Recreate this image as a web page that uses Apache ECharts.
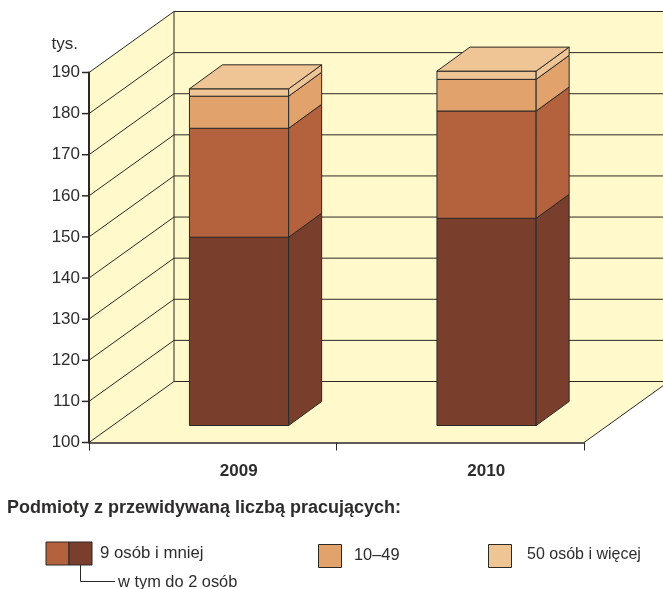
<!DOCTYPE html>
<html>
<head>
<meta charset="utf-8">
<style>html,body{margin:0;padding:0;background:#fff}#chart{width:663px;height:589px}</style>
<script src="https://cdn.jsdelivr.net/npm/echarts@6/dist/echarts.min.js"></script>
</head>
<body>
<div id="chart"></div>
<script>
var years = ['2009', '2010']
var yTicks = [100, 110, 120, 130, 140, 150, 160, 170, 180, 190]
var upTo2 = [145.8, 150.4]
var upTo9Rest = [26.5, 26.1]
var from10to49 = [7.8, 7.7]
var from50 = [1.8, 2.0]

var LINE = '#2b2926'
var TEXT = '#2f2d2c'
var WALL = '#fff9cb'
var DARK = '#7a3e2c'
var MID = '#b4613d'
var ORANGE = '#e2a26b'
var LIGHT = '#f0c596'
var FONT = '"Liberation Sans", Arial, sans-serif'

// depth of the box the chart stands in, and of the bars inside it
var wallDx = 85
var wallDy = -61
var barShiftX = 26.3
var barShiftY = -17
var barDx = 33
var barDy = -24
var barHalf = 49.6

function renderWalls (params, api) {
  var cs = params.coordSys
  var l = cs.x
  var r = cs.x + cs.width
  var t = cs.y
  var b = cs.y + cs.height
  var s = {fill: WALL, stroke: null}
  return {
    type: 'group',
    children: [
      {type: 'polygon', shape: {points: [[l, t], [l + wallDx, t + wallDy], [l + wallDx, b + wallDy], [l, b]]}, style: s},
      {type: 'rect', shape: {x: l + wallDx, y: t + wallDy, width: cs.width, height: cs.height}, style: s},
      {type: 'polygon', shape: {points: [[l, b], [r, b], [r + wallDx, b + wallDy], [l + wallDx, b + wallDy]]}, style: s},
      {type: 'line', shape: {x1: l + wallDx, y1: t + wallDy, x2: l + wallDx, y2: b + wallDy}, style: {stroke: LINE, lineWidth: 1}},
      {type: 'line', shape: {x1: r, y1: b, x2: r + wallDx, y2: b + wallDy}, style: {stroke: LINE, lineWidth: 1}}
    ]
  }
}

// one tick outside the axis, then the line over the left wall and the back wall
function renderGridLine (params, api) {
  var cs = params.coordSys
  var y = api.coord([0, api.value(0)])[1]
  var l = cs.x
  var style = {stroke: LINE, lineWidth: 1}
  return {
    type: 'group',
    children: [
      {type: 'rect', shape: {x: l - 7, y: y - 0.75, width: 7, height: 1.5}, style: {fill: LINE, stroke: null}},
      {type: 'line', shape: {x1: l, y1: y, x2: l + wallDx, y2: y + wallDy}, style: style},
      {type: 'line', shape: {x1: l + wallDx, y1: y + wallDy, x2: l + cs.width + wallDx, y2: y + wallDy}, style: style}
    ]
  }
}

function renderSegment (fill, withTop) {
  return function (params, api) {
    // the axis starts at 100, so the lowest block is cut there
    var p0 = api.coord([api.value(0), Math.max(api.value(1), yTicks[0])])
    var p1 = api.coord([api.value(0), api.value(2)])
    var x0 = p0[0] + barShiftX - barHalf
    var x1 = p0[0] + barShiftX + barHalf
    var y0 = p0[1] + barShiftY
    var y1 = p1[1] + barShiftY
    var style = {fill: fill, stroke: LINE, lineWidth: 1, lineJoin: 'round'}
    var kids = [
      {type: 'polygon', shape: {points: [[x0, y0], [x1, y0], [x1, y1], [x0, y1]]}, style: style},
      {type: 'polygon', shape: {points: [[x1, y0], [x1 + barDx, y0 + barDy], [x1 + barDx, y1 + barDy], [x1, y1]]}, style: style}
    ]
    if (withTop) {
      kids.push({type: 'polygon', shape: {points: [[x0, y1], [x1, y1], [x1 + barDx, y1 + barDy], [x0 + barDx, y1 + barDy]]}, style: style})
    }
    return {type: 'group', children: kids}
  }
}

// stack the four groups, each item is [year index, from, to]
var bottoms = [0, 0]
function stackRow (values) {
  return values.map(function (v, i) {
    var from = bottoms[i]
    bottoms[i] = from + v
    return [i, from, from + v]
  })
}

function segmentSeries (name, values, fill, withTop) {
  return {
    name: name,
    type: 'custom',
    silent: true,
    z: 2,
    renderItem: renderSegment(fill, withTop),
    encode: {x: 0, y: [1, 2]},
    data: stackRow(values)
  }
}

function labelText (text, x, y, size, bold) {
  return {
    type: 'text',
    x: x,
    y: y,
    style: {
      text: text,
      fill: TEXT,
      font: (bold ? 'bold ' : '') + size + 'px ' + FONT,
      textAlign: 'left',
      textVerticalAlign: 'middle'
    }
  }
}

function swatch (x, y, w, h, fill) {
  return {type: 'rect', shape: {x: x, y: y, width: w, height: h}, style: {fill: fill, stroke: LINE, lineWidth: 1}}
}

var chart = echarts.init(document.getElementById('chart'), null, {renderer: 'canvas'})
chart.setOption({
  animation: false,
  backgroundColor: '#fff',
  grid: {left: 89, top: 72.5, width: 495, height: 370},
  xAxis: {
    type: 'category',
    data: years,
    z: 5,
    axisLine: {show: true, lineStyle: {color: LINE, width: 1.5}},
    axisTick: {show: true, alignWithLabel: false, interval: 0, length: 8, lineStyle: {color: LINE, width: 1}},
    axisLabel: {
      color: TEXT,
      fontFamily: FONT,
      fontWeight: 'bold',
      fontSize: 17,
      margin: 20,
      padding: [0, 0, 0, 52]
    }
  },
  yAxis: {
    type: 'value',
    min: 100,
    max: 190,
    interval: 10,
    z: 5,
    name: 'tys.',
    nameLocation: 'end',
    nameGap: 20,
    nameTextStyle: {color: TEXT, fontFamily: FONT, fontSize: 17, align: 'right', padding: [0, 11, 0, 0]},
    splitLine: {show: false},
    axisLine: {show: true, onZero: false, lineStyle: {color: LINE, width: 2}},
    axisTick: {show: false},
    axisLabel: {color: TEXT, fontFamily: FONT, fontSize: 17, margin: 9}
  },
  series: [
    {type: 'custom', silent: true, z: 1, renderItem: renderWalls, data: [[0]]},
    {type: 'custom', silent: true, z: 1, renderItem: renderGridLine, encode: {y: 0}, data: yTicks.map(function (v) { return [v] })},
    segmentSeries('w tym do 2 osób', upTo2, DARK, false),
    segmentSeries('9 osób i mniej', upTo9Rest, MID, false),
    segmentSeries('10–49', from10to49, ORANGE, false),
    segmentSeries('50 osób i więcej', from50, LIGHT, true)
  ],
  graphic: [
    labelText('Podmioty z przewidywaną liczbą pracujących:', 7, 508, 18, true),
    swatch(46, 542, 23, 23, MID),
    swatch(69, 542, 23, 23, DARK),
    {type: 'polyline', shape: {points: [[80.5, 565], [80.5, 581.5], [115, 581.5]]}, style: {stroke: LINE, lineWidth: 1, fill: null}},
    labelText('9 osób i mniej', 100, 553, 16.8),
    labelText('w tym do 2 osób', 118, 582, 16.4),
    swatch(318.5, 544.5, 23, 23, ORANGE),
    labelText('10–49', 354, 555, 16.4),
    swatch(488.5, 544.5, 23, 23, LIGHT),
    labelText('50 osób i więcej', 527, 555, 16)
  ]
})
</script>
</body>
</html>
